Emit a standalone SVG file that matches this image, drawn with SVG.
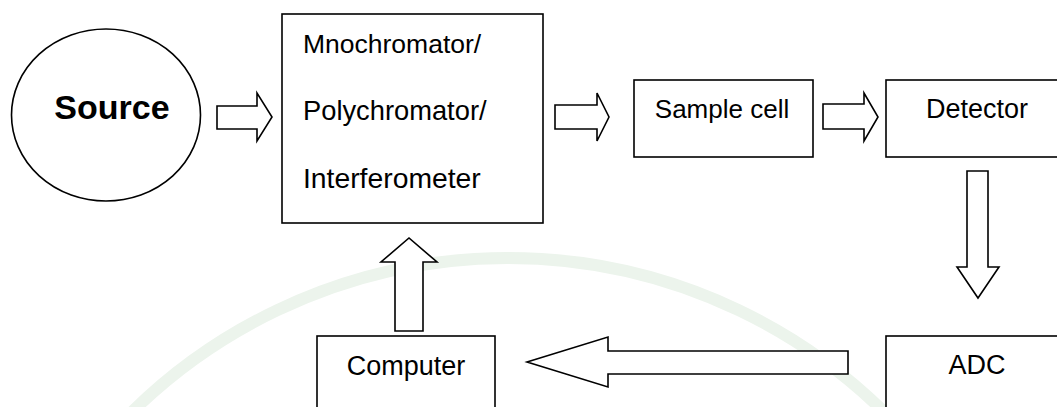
<svg xmlns="http://www.w3.org/2000/svg" width="1057" height="407" viewBox="0 0 1057 407">
<style>
.box{fill:#fff;stroke:#000;stroke-width:1.6}
.arr{fill:#fff;stroke:#000;stroke-width:1.6;stroke-linejoin:miter}
.t{font-family:"Liberation Sans",Arial,sans-serif;font-size:26px;fill:#000}
.c{text-anchor:middle}
</style>
<rect width="1057" height="407" fill="#fff"/>
<g id="watermark">
<path d="M 105.5 440 A 536 536 0 0 1 910.5 440" fill="none" stroke="#ecf4ec" stroke-width="12"/>
</g>
<g id="connectors">
<path class="arr" d="M217 106 H257 V93 L272 117 L257 141 V129 H217 Z"/>
<path class="arr" d="M555 105 H597 V93 L609 117 L597 141 V129 H555 Z"/>
<path class="arr" d="M823 104 H864 V93 L878 117 L864 141 V129 H823 Z"/>
<path class="arr" d="M967 171 H988 V267 H999 L978 298 L957 267 H967 Z"/>
<path class="arr" d="M848 351 V374 H608 V387 L527 362 L608 337 V351 Z"/>
<path class="arr" d="M395 331 V262 H381 L409 238 L437 262 H423 V331 Z"/>
</g>
<g id="source">
<ellipse cx="106" cy="115" rx="94.5" ry="86" fill="#fff" stroke="#000" stroke-width="1.6"/>
<text class="t c" x="112" y="119" style="font-weight:bold;font-size:34px">Source</text>
</g>
<g id="monochromator">
<rect class="box" x="282" y="14" width="261" height="209"/>
<text class="t" x="303" y="53" style="font-size:26.5px">Mnochromator/</text>
<text class="t" x="303" y="120" style="font-size:27.3px">Polychromator/</text>
<text class="t" x="303" y="188" style="font-size:28.3px">Interferometer</text>
</g>
<g id="sample-cell">
<rect class="box" x="634" y="80" width="179" height="77"/>
<text class="t c" x="722" y="118">Sample cell</text>
</g>
<g id="detector">
<rect class="box" x="886" y="80" width="180" height="77"/>
<text class="t c" x="977" y="118" style="font-size:27px">Detector</text>
</g>
<g id="adc">
<rect class="box" x="886" y="336" width="180" height="80"/>
<text class="t c" x="977" y="374" style="font-size:27px">ADC</text>
</g>
<g id="computer">
<rect class="box" x="317" y="336" width="178" height="80"/>
<text class="t c" x="406" y="375" style="font-size:27px">Computer</text>
</g>
</svg>
